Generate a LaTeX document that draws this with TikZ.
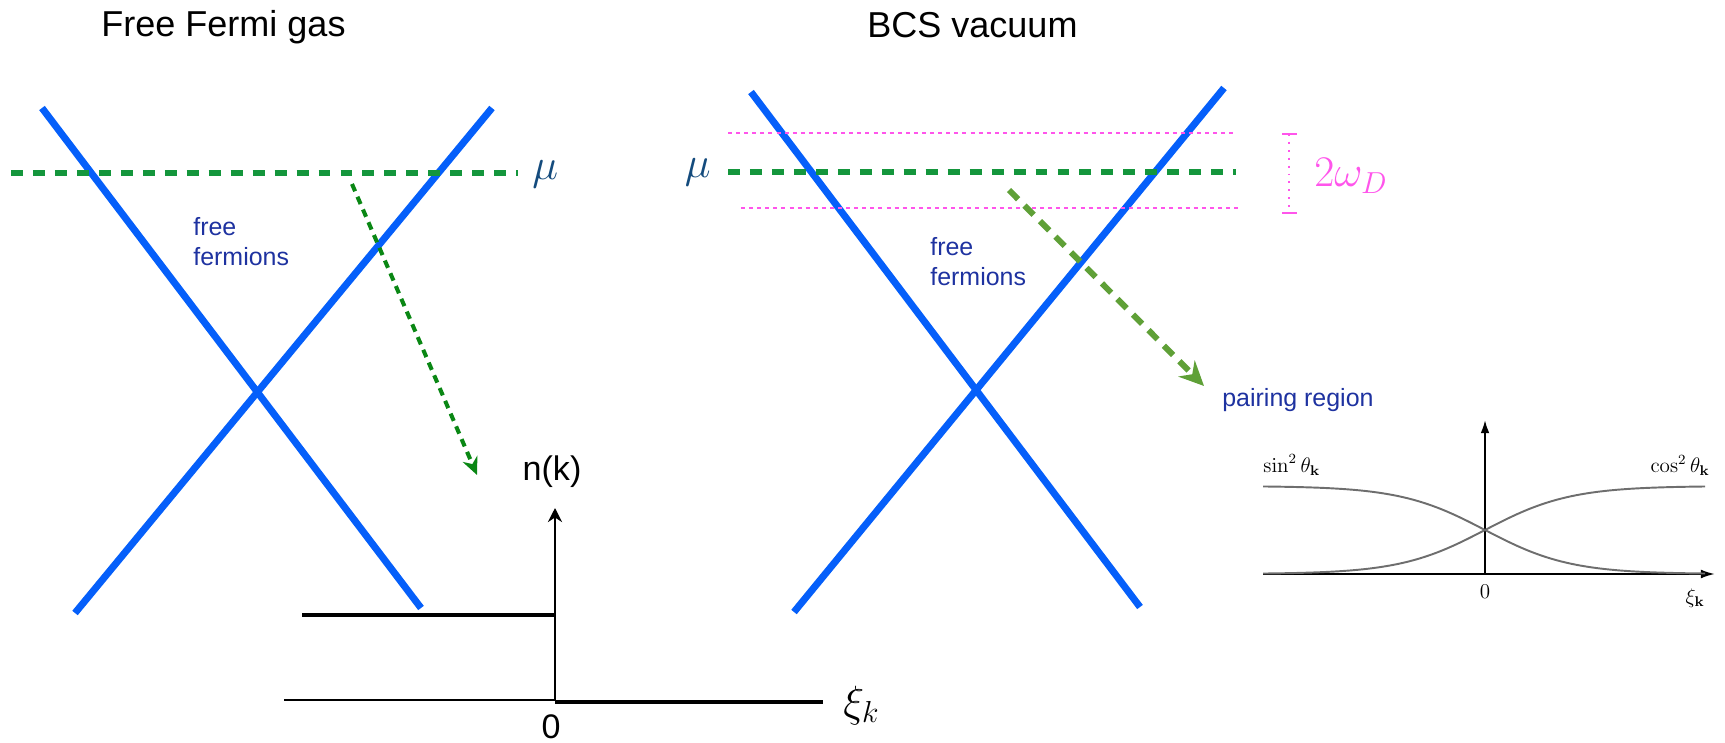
\documentclass[tikz,border=0pt]{standalone}
\usepackage[no-math]{fontspec}
\setmainfont{Liberation Sans}
\usetikzlibrary{arrows.meta}
\definecolor{dispblue}{RGB}{5,95,250}
\definecolor{mugreen}{RGB}{20,150,60}
\definecolor{darkgreen}{RGB}{10,135,20}
\definecolor{olivegreen}{RGB}{95,160,55}
\definecolor{txtblue}{RGB}{30,50,160}
\definecolor{muteal}{RGB}{20,75,125}
\definecolor{bandpink}{RGB}{255,85,235}
\definecolor{curvegray}{RGB}{110,110,110}

\begin{document}
\begin{tikzpicture}[x=0.2mm,y=-0.2mm,
  disp/.style={line width=4pt,dispblue},
  mu line/.style={line width=3.1pt,mugreen,dash pattern=on 6.8pt off 5.7pt},
  band/.style={line width=1.1pt,bandpink,dash pattern=on 2.3pt off 2.3pt},
  bluetext/.style={text=txtblue,font=\fontsize{14.2}{17}\selectfont,align=left,inner sep=0pt},
  bigmath/.style={font=\fontsize{26}{30}\selectfont,inner sep=0pt},
  heading/.style={font=\fontsize{20.5}{24}\selectfont,inner sep=0pt,anchor=base west},
  axisfont/.style={font=\fontsize{19.4}{23}\selectfont,inner sep=0pt},
  smallmath/.style={font=\fontsize{12}{14}\selectfont,inner sep=0pt}]
\useasboundingbox (0,0) rectangle (1725,743);

\node[heading] (freetitle) at (101,37) {Free Fermi gas};
\node[heading] (bcstitle) at (867,38) {BCS vacuum};

\draw[disp] (42,108)--(421,608);
\draw[disp] (75,613)--(492,108);
\draw[mu line] (11,173)--(518,173);
\node[bigmath,text=muteal,anchor=west] (muleft) at (532,174) {$\mu$};
\node[bluetext,anchor=west] (freeleft) at (193,242) {free\\fermions};

\draw[line width=1.4pt,-{Stealth[length=8pt,width=8pt]}] (555,700)--(555,508);
\node[axisfont] (nk) at (552,472) {n(k)};
\draw[line width=2.8pt] (302,615)--(555,615);
\draw[line width=1.4pt] (284,700)--(555,700);
\draw[line width=2.8pt] (555,702)--(823,702);
\node[axisfont] (zeroleft) at (551,727) {0};
\node[bigmath,anchor=base west] (xileft) at (843,716) {$\xi_k$};

\coordinate (fromL) at (352,184);
\coordinate (toL) at (477,475);
\draw[line width=2.3pt,darkgreen,dash pattern=on 4.5pt off 3.4pt,-{Stealth[length=10pt,width=9pt]}] (fromL)--(toL);

\draw[disp] (751,92)--(1140,607);
\draw[disp] (794,612)--(1224,88);
\draw[band] (728,133)--(1236,133);
\draw[band] (741,208)--(1238,208);
\draw[mu line] (728,172)--(1236,172);
\node[bigmath,text=muteal,anchor=east] (muright) at (711,172) {$\mu$};
\draw[bandpink,line width=1.1pt,dash pattern=on 1.1pt off 3.4pt] (1289,134)--(1289,213);
\draw[bandpink,line width=1.4pt] (1282,134)--(1297,134) (1282,213)--(1297,213);
\node[bigmath,text=bandpink,anchor=base west] (omegaD) at (1314,187) {$2\omega_D$};
\node[bluetext,anchor=west] (freeright) at (930,262) {free\\fermions};
\node[bluetext,anchor=west] (pairing) at (1222,400) {pairing region};

\coordinate (fromR) at (1009,190);
\coordinate (toR) at (1204,386);
\draw[line width=3.4pt,olivegreen,dash pattern=on 7.4pt off 5.1pt,-{Stealth[length=14pt,width=13pt]}] (fromR)--(toR);

\draw[line width=1.1pt,-{Latex[length=8pt,width=5pt]}] (1263,574)--(1715,574);
\draw[line width=1.1pt,-{Latex[length=7.5pt,width=5pt]}] (1485,574)--(1485,420);
\draw[curvegray,line width=1.1pt] plot[domain=-22.2:22,samples=90] ({1485+10*\x},{574-44*(1-tanh(\x/8.5))});
\draw[curvegray,line width=1.1pt] plot[domain=-22.2:22,samples=90] ({1485+10*\x},{574-44*(1+tanh(\x/8.5))});
\node[smallmath,anchor=base west] (sinlabel) at (1263,472) {$\sin^2\theta_{\mathbf k}$};
\node[smallmath,anchor=base east] (coslabel) at (1710,472) {$\cos^2\theta_{\mathbf k}$};
\node[smallmath] (zeroright) at (1485,592) {$0$};
\node[smallmath] (xiright) at (1695,598) {$\xi_{\mathbf k}$};
\end{tikzpicture}
\end{document}
